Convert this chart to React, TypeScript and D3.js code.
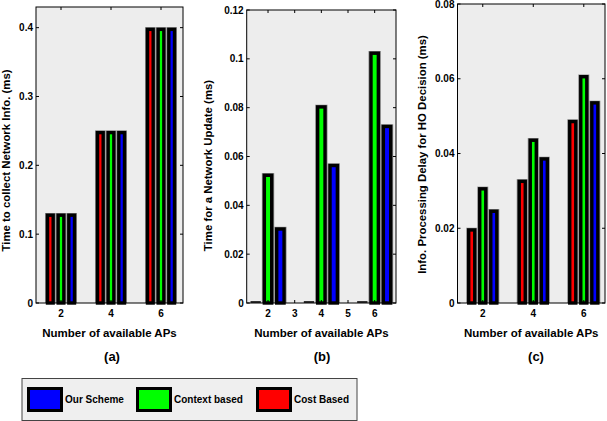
import * as d3 from 'd3';

const apCounts = [2, 4, 6];
const seriesNames = ['Cost Based', 'Context based', 'Our Scheme'];
const seriesColors = ['#ff0000', '#00ff00', '#0000ff'];

// (a) time to collect network info
const collectCost = [0.13, 0.25, 0.4];
const collectContext = [0.13, 0.25, 0.4];
const collectOurs = [0.13, 0.25, 0.4];
// (b) time for a network update
const updateCost = [0, 0, 0];
const updateContext = [0.053, 0.081, 0.103];
const updateOurs = [0.031, 0.057, 0.073];
// (c) info processing delay for HO decision
const decisionCost = [0.02, 0.033, 0.049];
const decisionContext = [0.031, 0.044, 0.061];
const decisionOurs = [0.025, 0.039, 0.054];

const ticksA = [0, 0.1, 0.2, 0.3, 0.4];
const ticksB = [0, 0.02, 0.04, 0.06, 0.08, 0.1, 0.12];
const ticksC = [0, 0.02, 0.04, 0.06, 0.08];

const FONT = "'Liberation Sans', Arial, sans-serif";

type PanelProps = {
  left: number;
  right: number;
  top: number;
  bottom: number;
  xDomain: [number, number];
  yMax: number;
  yTicks: number[];
  xTicks: number[];
  groupWidth: number;
  series: number[][];
  yLabel: string;
  yLabelX: number;
  yLabelY: number;
  caption: string;
  captionX: number;
};

const fmt = (v: number) => String(+v.toFixed(3));

function Panel(p: PanelProps) {
  const x = d3.scaleLinear().domain(p.xDomain).range([p.left, p.right]);
  const y = d3.scaleLinear().domain([0, p.yMax]).range([p.bottom, p.top]);
  const unit = x(1) - x(0);
  const inner = d3
    .scaleBand<number>()
    .domain(d3.range(p.series.length))
    .range([-(p.groupWidth * unit) / 2, (p.groupWidth * unit) / 2])
    .padding(0);
  const bw = inner.bandwidth();
  const sw = 3.4;

  return (
    <g>
      <rect
        x={p.left}
        y={p.top}
        width={p.right - p.left}
        height={p.bottom - p.top}
        fill="#ededed"
      />
      {apCounts.map((ap, i) =>
        p.series.map((vals, s) => {
          const x0 = x(ap) + (inner(s) as number);
          const y0 = y(vals[i]);
          if (vals[i] === 0) {
            // empty bar: only its bottom edge shows
            return (
              <line
                key={`${i}-${s}`}
                x1={x0 + 1}
                x2={x0 + bw - 1}
                y1={p.bottom - 1}
                y2={p.bottom - 1}
                stroke="#333"
                strokeWidth={2}
              />
            );
          }
          return (
            <g key={`${i}-${s}`}>
              <rect
                x={x0}
                y={y0 - 0.5}
                width={bw}
                height={p.bottom - y0 + 0.5}
                fill="#8a8a8a"
              />
              <rect
                x={x0 + 0.8 + sw / 2}
                y={y0 + sw / 2}
                width={bw - 1.6 - sw}
                height={Math.max(0, p.bottom - y0 - sw / 2)}
                fill={seriesColors[s]}
                stroke="#000"
                strokeWidth={sw}
              />
            </g>
          );
        })
      )}
      {/* box */}
      <rect
        x={p.left}
        y={p.top}
        width={p.right - p.left}
        height={p.bottom - p.top}
        fill="none"
        stroke="#000"
        strokeWidth={1}
      />
      {p.yTicks.map(t => (
        <g key={`y${t}`}>
          <line x1={p.left} x2={p.left + 3} y1={y(t)} y2={y(t)} stroke="#000" />
          <line x1={p.right} x2={p.right - 3} y1={y(t)} y2={y(t)} stroke="#000" />
          <text
            x={p.left - 3}
            y={y(t)}
            dy="0.35em"
            textAnchor="end"
            fontFamily={FONT}
            fontWeight="bold"
            fontSize={10}
          >
            {fmt(t)}
          </text>
        </g>
      ))}
      {p.xTicks.map(t => (
        <g key={`x${t}`}>
          <line x1={x(t)} x2={x(t)} y1={p.bottom} y2={p.bottom - 3} stroke="#000" />
          <line x1={x(t)} x2={x(t)} y1={p.top} y2={p.top + 3} stroke="#000" />
          <text
            x={x(t)}
            y={p.bottom + 14}
            textAnchor="middle"
            fontFamily={FONT}
            fontWeight="bold"
            fontSize={10}
          >
            {t}
          </text>
        </g>
      ))}
      <text
        x={(p.left + p.right) / 2}
        y={337}
        textAnchor="middle"
        fontFamily={FONT}
        fontWeight="bold"
        fontSize={11.5}
      >
        Number of available APs
      </text>
      <text
        transform={`translate(${p.yLabelX},${p.yLabelY}) rotate(-90)`}
        textAnchor="middle"
        dy="0.35em"
        fontFamily={FONT}
        fontWeight="bold"
        fontSize={11.4}
      >
        {p.yLabel}
      </text>
      <text
        x={p.captionX}
        y={361}
        textAnchor="middle"
        fontFamily={FONT}
        fontWeight="bold"
        fontSize={13}
      >
        {p.caption}
      </text>
    </g>
  );
}

const legendItems = [
  { name: seriesNames[2], color: seriesColors[2], x: 27 },
  { name: seriesNames[1], color: seriesColors[1], x: 136 },
  { name: seriesNames[0], color: seriesColors[0], x: 256 },
];

export default function App() {
  return (
    <svg
      width={607}
      height={421}
      style={{ position: 'absolute', left: 0, top: 0, background: '#fff' }}
    >
      <Panel
        left={36}
        right={183}
        top={7}
        bottom={303}
        xDomain={[1, 6.88]}
        yMax={0.43}
        yTicks={ticksA}
        xTicks={apCounts}
        groupWidth={1.28}
        series={[collectCost, collectContext, collectOurs]}
        yLabel="Time to collect Network Info. (ms)"
        yLabelX={6}
        yLabelY={160.5}
        caption="(a)"
        captionX={112}
      />
      <Panel
        left={246.7}
        right={396}
        top={10}
        bottom={303}
        xDomain={[1.2, 6.8]}
        yMax={0.12}
        yTicks={ticksB}
        xTicks={[2, 3, 4, 5, 6]}
        groupWidth={1.39}
        series={[updateCost, updateContext, updateOurs]}
        yLabel="Time for a Network Update (ms)"
        yLabelX={208}
        yLabelY={165.5}
        caption="(b)"
        captionX={322}
      />
      <Panel
        left={457.5}
        right={605}
        top={4}
        bottom={303}
        xDomain={[1, 6.84]}
        yMax={0.08}
        yTicks={ticksC}
        xTicks={apCounts}
        groupWidth={1.31}
        series={[decisionCost, decisionContext, decisionOurs]}
        yLabel="Info. Processing Delay for HO Decision (ms)"
        yLabelX={422}
        yLabelY={154.5}
        caption="(c)"
        captionX={536}
      />
      <rect x={22} y={378.5} width={335} height={42} fill="#efefef" stroke="#444" strokeWidth={1} />
      {legendItems.map(it => (
        <g key={it.name}>
          <rect
            x={it.x + 1.5}
            y={388.5}
            width={33}
            height={22}
            fill={it.color}
            stroke="#000"
            strokeWidth={3}
          />
          <text
            x={it.x + 38}
            y={399.5}
            dy="0.35em"
            fontFamily={FONT}
            fontWeight="bold"
            fontSize={10}
          >
            {it.name}
          </text>
        </g>
      ))}
    </svg>
  );
}
